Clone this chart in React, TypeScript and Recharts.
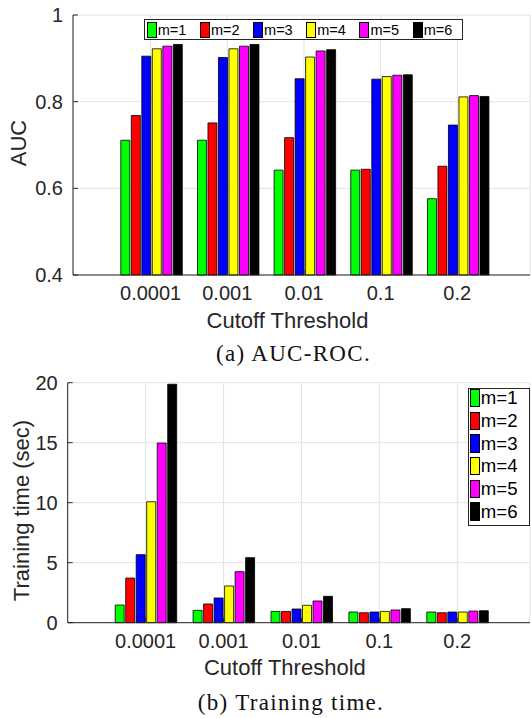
import React from 'react';
import { BarChart, Bar, XAxis, YAxis, CartesianGrid } from 'recharts';

// Cutoff thresholds on the horizontal axis
const thresholds = ['0.0001', '0.001', '0.01', '0.1', '0.2'];

// Number of components m, one series per value
const seriesKeys = ['m1', 'm2', 'm3', 'm4', 'm5', 'm6'];
const seriesNames = ['m=1', 'm=2', 'm=3', 'm=4', 'm=5', 'm=6'];
const seriesColors = ['#00ff00', '#ff0000', '#0000ff', '#ffff00', '#ff00ff', '#000000'];

// AUC-ROC per threshold
const aucM1 = [0.711, 0.711, 0.642, 0.642, 0.576];
const aucM2 = [0.768, 0.751, 0.717, 0.644, 0.651];
const aucM3 = [0.905, 0.902, 0.853, 0.852, 0.746];
const aucM4 = [0.922, 0.922, 0.903, 0.858, 0.811];
const aucM5 = [0.928, 0.928, 0.917, 0.861, 0.814];
const aucM6 = [0.932, 0.932, 0.92, 0.862, 0.812];

// Training time (sec) per threshold
const timeM1 = [1.47, 1.03, 0.94, 0.89, 0.89];
const timeM2 = [3.72, 1.56, 0.94, 0.83, 0.83];
const timeM3 = [5.67, 2.06, 1.14, 0.89, 0.89];
const timeM4 = [10.08, 3.06, 1.45, 0.94, 0.89];
const timeM5 = [14.97, 4.25, 1.81, 1.06, 0.97];
const timeM6 = [19.87, 5.42, 2.2, 1.17, 1.0];

const aucTicks = [0.4, 0.6, 0.8, 1];
const timeTicks = [0, 5, 10, 15, 20];

const SANS = '"Liberation Sans", Arial, Helvetica, sans-serif';
const SERIF = '"Liberation Serif", "Times New Roman", serif';
const AXIS = '#262626';
const GRID = '#e3e3e3';

function buildRows(series: number[][]) {
  return thresholds.map((t, i) => {
    const row: Record<string, string | number> = { threshold: t };
    series.forEach((s, k) => {
      row[seriesKeys[k]] = s[i];
    });
    return row;
  });
}

const aucRows = buildRows([aucM1, aucM2, aucM3, aucM4, aucM5, aucM6]);
const timeRows = buildRows([timeM1, timeM2, timeM3, timeM4, timeM5, timeM6]);

const tickStyle = { fill: AXIS, fontSize: 20, fontFamily: SANS };

const xTitle = (dx: number, dy: number) => (props: any) => {
  const vb = props.viewBox || {};
  return (
    <text
      x={vb.x + vb.width / 2 + dx}
      y={vb.y + dy}
      dy="0.36em"
      textAnchor="middle"
      fill={AXIS}
      fontSize={22}
      fontFamily={SANS}
    >
      Cutoff Threshold
    </text>
  );
};

const yTitle = (text: string, x: number, y: number) => () => (
  <text
    x={x}
    y={y}
    dy="0.36em"
    textAnchor="middle"
    transform={`rotate(-90 ${x} ${y})`}
    fill={AXIS}
    fontSize={22}
    fontFamily={SANS}
  >
    {text}
  </text>
);

const Swatch = ({ color, w, h }: { color: string; w: number; h: number }) => (
  <span
    style={{
      display: 'inline-block',
      width: w,
      height: h,
      background: color,
      border: '1px solid #000',
      boxSizing: 'border-box',
      flex: 'none',
    }}
  />
);

// Series key laid out in one row
const RowKey = ({ left, top }: { left: number; top: number }) => (
  <div
    style={{
      position: 'absolute',
      left,
      top,
      width: 319,
      height: 21,
      border: `1px solid ${AXIS}`,
      background: '#fff',
      boxSizing: 'border-box',
      display: 'flex',
      alignItems: 'center',
      paddingLeft: 1.4,
    }}
  >
    {seriesNames.map((n, i) => (
      <div key={n} style={{ width: 53.2, display: 'flex', alignItems: 'center', flex: 'none' }}>
        <Swatch color={seriesColors[i]} w={10} h={16} />
        <span style={{ fontSize: 14.5, marginLeft: 1, fontFamily: SANS, color: '#000', lineHeight: '16px' }}>{n}</span>
      </div>
    ))}
  </div>
);

// Series key laid out in one column
const ColumnKey = ({ left, top }: { left: number; top: number }) => (
  <div
    style={{
      position: 'absolute',
      left,
      top,
      width: 62,
      height: 138.3,
      border: `1px solid ${AXIS}`,
      background: '#fff',
      boxSizing: 'border-box',
      paddingLeft: 0.7,
    }}
  >
    {seriesNames.map((n, i) => (
      <div key={n} style={{ height: 22.7, display: 'flex', alignItems: 'flex-start' }}>
        <div style={{ display: 'flex', alignItems: 'center', marginTop: 0.3, height: 18.3 }}>
          <Swatch color={seriesColors[i]} w={10.3} h={18.3} />
          <span style={{ fontSize: 18.6, marginLeft: 0.5, fontFamily: SANS, color: '#000', lineHeight: '18px' }}>{n}</span>
        </div>
      </div>
    ))}
  </div>
);

const bars = () =>
  seriesKeys.map((k, i) => (
    <Bar
      key={k}
      dataKey={k}
      name={seriesNames[i]}
      fill={seriesColors[i]}
      stroke="#000"
      strokeWidth={0.8}
      isAnimationActive={false}
    />
  ));

const captionStyle: React.CSSProperties = {
  position: 'absolute',
  width: 300,
  textAlign: 'center',
  fontFamily: SERIF,
  fontSize: 23,
  lineHeight: '23px',
  letterSpacing: 1.3,
  color: '#111',
  whiteSpace: 'nowrap',
};

export default function App() {
  return (
    <div style={{ position: 'absolute', left: 0, top: 0, width: 531, height: 718, background: '#fff' }}>
      {/* AUC-ROC */}
      <div style={{ position: 'absolute', left: 0, top: 0, width: 531, height: 335 }}>
        <BarChart
          width={531}
          height={335}
          data={aucRows}
          margin={{ top: 15, right: 1, bottom: 0, left: 0 }}
          barCategoryGap={8.5}
          barGap={1.5}
        >
          <CartesianGrid stroke={GRID} />
          <XAxis
            dataKey="threshold"
            height={60}
            padding={{ left: 39.3, right: 34.4 }}
            tick={tickStyle}
            tickSize={-5}
            tickMargin={16}
            stroke={AXIS}
            interval={0}
            label={{ content: xTitle(-14, 45) }}
          />
          <XAxis
            xAxisId="top"
            dataKey="threshold"
            orientation="top"
            height={0}
            padding={{ left: 39.3, right: 34.4 }}
            tick={false}
            tickSize={-5}
            stroke={AXIS}
            interval={0}
          />
          <YAxis
            width={73}
            domain={[0.4, 1]}
            ticks={aucTicks}
            tick={tickStyle}
            tickSize={-5}
            tickMargin={15}
            stroke={AXIS}
            tickFormatter={(v: number) => String(v)}
            label={{ content: yTitle('AUC', 18.5, 143) }}
          />
          <YAxis
            yAxisId="right"
            orientation="right"
            width={0}
            domain={[0.4, 1]}
            ticks={aucTicks}
            tick={false}
            tickSize={-5}
            stroke={AXIS}
          />
          {bars()}
        </BarChart>
      </div>
      <RowKey left={144.3} top={19.3} />
      <div style={{ ...captionStyle, left: 143.5, top: 341.5 }}>(a) AUC-ROC.</div>

      {/* Training time */}
      <div style={{ position: 'absolute', left: 0, top: 360, width: 531, height: 320 }}>
        <BarChart
          width={531}
          height={320}
          data={timeRows}
          margin={{ top: 22.7, right: 1, bottom: 0, left: 0 }}
          barCategoryGap={8.5}
          barGap={1.5}
        >
          <CartesianGrid stroke={GRID} />
          <XAxis
            dataKey="threshold"
            height={57.3}
            padding={{ left: 39, right: 33.8 }}
            tick={tickStyle}
            tickSize={-5}
            tickMargin={16}
            stroke={AXIS}
            interval={0}
            label={{ content: xTitle(-14, 44) }}
          />
          <XAxis
            xAxisId="top"
            dataKey="threshold"
            orientation="top"
            height={0}
            padding={{ left: 39, right: 33.8 }}
            tick={false}
            tickSize={-5}
            stroke={AXIS}
            interval={0}
          />
          <YAxis
            width={67.7}
            domain={[0, 20]}
            ticks={timeTicks}
            tick={tickStyle}
            tickSize={-5}
            tickMargin={15}
            stroke={AXIS}
            label={{ content: yTitle('Training time (sec)', 21, 150.5) }}
          />
          <YAxis
            yAxisId="right"
            orientation="right"
            width={0}
            domain={[0, 20]}
            ticks={timeTicks}
            tick={false}
            tickSize={-5}
            stroke={AXIS}
          />
          {bars()}
        </BarChart>
      </div>
      <ColumnKey left={468.3} top={387.7} />
      <div style={{ ...captionStyle, left: 141, top: 690.5 }}>(b) Training time.</div>
    </div>
  );
}
